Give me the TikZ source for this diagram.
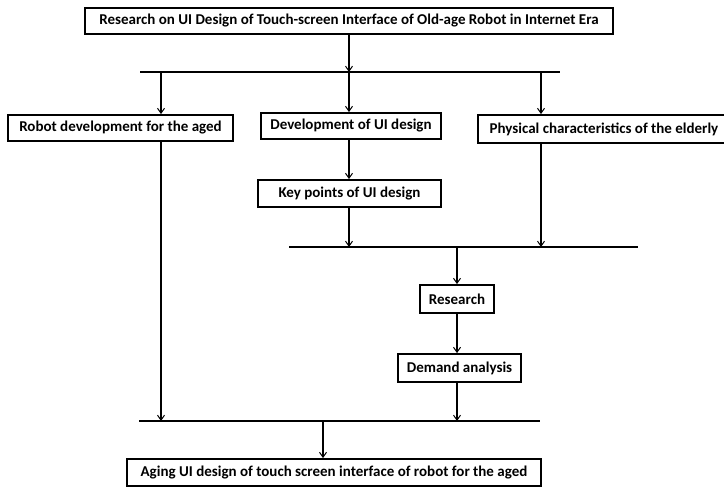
\documentclass[tikz,border=0pt]{standalone}
\usepackage{fontspec}
\setmainfont{Carlito}
\usetikzlibrary{arrows.meta}
\begin{document}
\begin{tikzpicture}[x=1pt,y=-1pt,
  box/.style={draw,line width=1.8pt,inner sep=0pt,font=\bfseries\fontsize{15}{17}\selectfont,anchor=center},
  ln/.style={line width=1.1pt},
  arr/.style={ln,-{Straight Barb[length=5pt,width=7pt,line width=1pt]}}]
\useasboundingbox (0,0) rectangle (724,490);
\node[box,minimum width=528pt,minimum height=26pt] (top) at (349,21) {Research on UI Design of Touch-screen Interface of Old-age Robot in Internet Era};
\node[box,minimum width=225pt,minimum height=26pt] (robot) at (120.5,128) {Robot development for the aged};
\node[box,minimum width=180pt,minimum height=26pt] (dev) at (351,126) {Development of UI design};
\node[box,minimum width=252pt,minimum height=28pt] (phys) at (604,129) {Physical characteristics of the elderly};
\node[box,minimum width=183pt,minimum height=27pt] (key) at (349.5,193.5) {Key points of UI design};
\node[box,minimum width=74pt,minimum height=28pt] (res) at (457,299) {Research};
\node[box,minimum width=123pt,minimum height=28pt] (dem) at (459.5,368) {Demand analysis};
\node[box,minimum width=414pt,minimum height=27pt] (bot) at (334,472.5) {Aging UI design of touch screen interface of robot for the aged};
% buses
\coordinate (b1l) at (140,72); \coordinate (b1r) at (560,72);
\coordinate (b2l) at (289,247); \coordinate (b2r) at (638,247);
\coordinate (b3l) at (139,421); \coordinate (b3r) at (540,421);
\draw[ln] (b1l) -- (b1r);
\draw[ln] (b2l) -- (b2r);
\draw[ln] (b3l) -- (b3r);
\draw[arr] (top.south -| 349,0) -- (349,72);
\draw[arr] (161,72) -- (robot.north -| 161,0);
\draw[arr] (349,72) -- (dev.north -| 349,0);
\draw[arr] (541,72) -- (phys.north -| 541,0);
\draw[arr] (dev.south -| 349,0) -- (key.north -| 349,0);
\draw[arr] (key.south -| 349,0) -- (349,247);
\draw[arr] (phys.south -| 541,0) -- (541,247);
\draw[arr] (457,247) -- (res.north);
\draw[arr] (res.south) -- (dem.north -| 457,0);
\draw[arr] (dem.south -| 457,0) -- (457,421);
\draw[arr] (robot.south -| 161,0) -- (161,421);
\draw[arr] (323,421) -- (bot.north -| 323,0);
\end{tikzpicture}
\end{document}
